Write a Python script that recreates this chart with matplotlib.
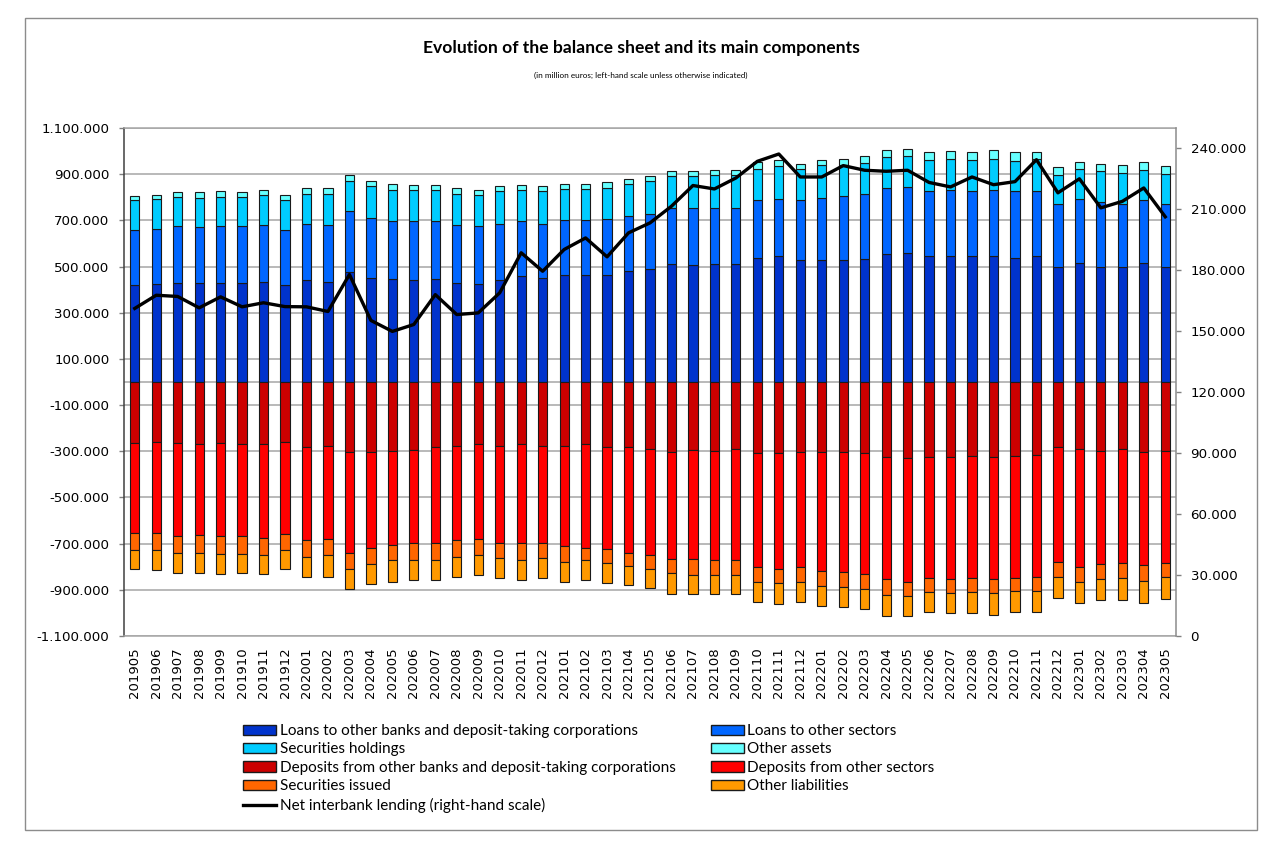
import matplotlib
matplotlib.use("Agg")
import matplotlib.pyplot as plt
import numpy as np
from matplotlib.ticker import FuncFormatter, FixedLocator
from matplotlib.patches import Rectangle, Patch
from matplotlib.lines import Line2D

# ---------------- data (million euros) ----------------
periods = ["201905", "201906", "201907", "201908", "201909", "201910", "201911", "201912",
           "202001", "202002", "202003", "202004", "202005", "202006", "202007", "202008",
           "202009", "202010", "202011", "202012", "202101", "202102", "202103", "202104",
           "202105", "202106", "202107", "202108", "202109", "202110", "202111", "202112",
           "202201", "202202", "202203", "202204", "202205", "202206", "202207", "202208",
           "202209", "202210", "202211", "202212", "202301", "202302", "202303", "202304",
           "202305"]

loans_banks = [420000, 425000, 430000, 430000, 430000, 430000, 435000, 420000, 441000, 435000,
               478000, 451000, 445000, 441000, 445000, 430000, 425000, 441000, 457000, 451000,
               463000, 463000, 463000, 480000, 489000, 512000, 506000, 512000, 512000, 539000,
               545000, 527000, 527000, 527000, 533000, 555000, 560000, 545000, 545000, 545000,
               545000, 539000, 545000, 496000, 517000, 500000, 500000, 517000, 500000]
loans_other = [238000, 239000, 244000, 240000, 244000, 244000, 245000, 238000, 244000, 245000,
               262000, 260000, 252000, 256000, 252000, 250000, 249000, 244000, 240000, 234000,
               238000, 238000, 244000, 237000, 239000, 242000, 248000, 242000, 242000, 248000,
               248000, 260000, 272000, 278000, 283000, 283000, 283000, 281000, 287000, 281000,
               287000, 287000, 281000, 277000, 276000, 279000, 273000, 270000, 273000]
securities_hold = [129000, 129000, 129000, 129000, 129000, 129000, 129000, 129000, 131000, 136000,
                   129000, 137000, 135000, 135000, 135000, 136000, 136000, 141000, 135000, 143000,
                   135000, 135000, 135000, 142000, 141000, 137000, 137000, 144000, 144000, 135000,
                   141000, 135000, 141000, 135000, 134000, 135000, 135000, 135000, 135000, 135000,
                   135000, 129000, 141000, 125000, 129000, 133000, 132000, 131000, 128000]
other_assets = [18000, 17000, 19000, 23000, 23000, 19000, 23000, 23000, 22000, 22000,
                29000, 21000, 27000, 21000, 21000, 22000, 22000, 22000, 21000, 20000,
                22000, 22000, 22000, 20000, 22000, 21000, 21000, 20000, 20000, 30000,
                28000, 23000, 21000, 27000, 28000, 31000, 33000, 33000, 34000, 35000,
                39000, 41000, 29000, 33000, 31000, 33000, 36000, 35000, 36000]

deposits_banks = [265000, 260000, 265000, 270000, 265000, 270000, 270000, 260000, 282000, 276000,
                  304000, 304000, 298000, 294000, 282000, 276000, 270000, 276000, 270000, 276000,
                  276000, 270000, 282000, 282000, 288000, 304000, 294000, 298000, 288000, 309000,
                  309000, 304000, 304000, 304000, 309000, 325000, 331000, 325000, 325000, 319000,
                  325000, 319000, 315000, 282000, 292000, 298000, 292000, 304000, 298000]
deposits_other = [388000, 393000, 403000, 392000, 403000, 398000, 405000, 398000, 403000, 403000,
                  436000, 414000, 408000, 405000, 417000, 409000, 409000, 420000, 429000, 423000,
                  436000, 448000, 443000, 458000, 463000, 464000, 474000, 475000, 485000, 492000,
                  503000, 497000, 513000, 518000, 523000, 530000, 534000, 524000, 530000, 530000,
                  530000, 530000, 528000, 496000, 508000, 490000, 491000, 490000, 485000]
securities_issued = [76000, 76000, 72000, 78000, 76000, 76000, 76000, 71000, 72000, 72000,
                     72000, 72000, 67000, 74000, 74000, 72000, 72000, 65000, 74000, 64000,
                     66000, 55000, 59000, 56000, 61000, 61000, 67000, 62000, 62000, 65000,
                     60000, 65000, 66000, 66000, 66000, 66000, 62000, 60000, 60000, 60000,
                     60000, 55000, 61000, 65000, 65000, 67000, 66000, 66000, 60000]
other_liabilities = [81000, 87000, 86000, 86000, 88000, 82000, 81000, 81000, 86000, 92000,
                     86000, 86000, 92000, 86000, 86000, 86000, 86000, 86000, 86000, 84000,
                     87000, 86000, 86000, 85000, 82000, 90000, 84000, 84000, 84000, 85000,
                     91000, 85000, 85000, 86000, 86000, 92000, 86000, 87000, 86000, 92000,
                     92000, 92000, 92000, 92000, 92000, 90000, 96000, 97000, 98000]

net_interbank = [161200, 167700, 167100, 161500, 166900, 162000, 164000, 162100, 162000, 159700,
                 177900, 155300, 149900, 153300, 168000, 158200, 159000, 168900, 188600, 179500,
                 190200, 195900, 186600, 198400, 203300, 211500, 221700, 220000, 225400, 233600,
                 237200, 225900, 225900, 231500, 229200, 228700, 229200, 223200, 221000, 225900,
                 222100, 223600, 234400, 218100, 225000, 210700, 213900, 220500, 206300]

asset_labels = ["Loans to other banks and deposit-taking corporations", "Loans to other sectors",
                "Securities holdings", "Other assets"]
liab_labels = ["Deposits from other banks and deposit-taking corporations",
               "Deposits from other sectors", "Securities issued", "Other liabilities"]
line_label = "Net interbank lending (right-hand scale)"

left_ticks = [-1100000, -900000, -700000, -500000, -300000, -100000,
              100000, 300000, 500000, 700000, 900000, 1100000]
right_ticks = [0, 30000, 60000, 90000, 120000, 150000, 180000, 210000, 240000]

title = "Evolution of the balance sheet and its main components"
subtitle = "(in million euros; left-hand scale unless otherwise indicated)"

# ---------------- styles ----------------
asset_colors = ["#0033CC", "#0066FF", "#00CCFF", "#66FFFF"]
liab_colors = ["#CC0000", "#FF0000", "#FF6600", "#FF9900"]
edge = "#1a1a1a"
grid_col = "#A6A6A6"

W, H = 1271, 842
fig = plt.figure(figsize=(W / 100, H / 100), dpi=100)
fig.patch.set_facecolor("white")

# outer chart border
fig.patches.append(Rectangle((25 / W, 1 - 830 / H), (1257 - 25) / W, (830 - 18) / H,
                             transform=fig.transFigure, fill=False,
                             edgecolor="#8C8C8C", linewidth=1.0))

L, R, T, B = 124, 1176, 128, 636
ax = fig.add_axes([L / W, 1 - B / H, (R - L) / W, (B - T) / H])
ax2 = ax.twinx()

n = len(periods)
pos = np.arange(n)
bw = 0.43

bottom = np.zeros(n)
for vals, col in zip([loans_banks, loans_other, securities_hold, other_assets], asset_colors):
    v = np.array(vals, dtype=float)
    ax.bar(pos, v, bw, bottom=bottom, color=col, edgecolor=edge, linewidth=0.8, zorder=2)
    bottom = bottom + v

bottom = np.zeros(n)
for vals, col in zip([deposits_banks, deposits_other, securities_issued, other_liabilities], liab_colors):
    v = -np.array(vals, dtype=float)
    ax.bar(pos, v, bw, bottom=bottom, color=col, edgecolor=edge, linewidth=0.8, zorder=2)
    bottom = bottom + v

ax.set_xlim(-0.5, n - 0.5)
ax.set_ylim(-1100000, 1100000)
ax.yaxis.set_major_locator(FixedLocator(left_ticks))
fmt = FuncFormatter(lambda v, p: f"{int(round(v)):,}".replace(",", "."))
ax.yaxis.set_major_formatter(fmt)
ax.set_axisbelow(True)
ax.grid(axis="y", color=grid_col, linewidth=1.1, zorder=0)
ax.axhline(0, color=grid_col, linewidth=1.1, zorder=1)

ax.set_xticks(pos)
ax.set_xticklabels(periods, rotation=90, fontsize=9.5, family="DejaVu Sans")
ax.tick_params(axis="x", length=0, pad=8)
ax.tick_params(axis="y", direction="out", length=3.5, width=1, color="#808080",
               labelsize=9.6, pad=7)

for s in ["top", "bottom"]:
    ax.spines[s].set_color(grid_col)
    ax.spines[s].set_linewidth(1.1)
ax.spines["left"].set_color("#404040")
ax.spines["left"].set_linewidth(1.1)
ax.spines["right"].set_visible(False)

ax2.plot(pos, net_interbank, color="black", linewidth=2.4, solid_joinstyle="round", zorder=5)
ax2.set_ylim(0, 250000)
ax2.yaxis.set_major_locator(FixedLocator(right_ticks))
ax2.yaxis.set_major_formatter(fmt)
ax2.tick_params(axis="y", direction="out", length=3.5, width=1, color="#808080",
                labelsize=9.6, pad=7)
for s in ["top", "bottom", "left"]:
    ax2.spines[s].set_visible(False)
ax2.spines["right"].set_color("#8C8C8C")
ax2.spines["right"].set_linewidth(1.1)

# titles
fig.text(641 / W, 1 - 48 / H, title, ha="center", va="center",
         fontsize=12.6, fontweight="bold", family="Lato")
fig.text(641 / W, 1 - 75 / H, subtitle, ha="center", va="center",
         fontsize=5.9, family="Lato")

# legend (column-wise order)
handles = [
    Patch(facecolor=asset_colors[0], edgecolor=edge, label=asset_labels[0]),
    Patch(facecolor=asset_colors[2], edgecolor=edge, label=asset_labels[2]),
    Patch(facecolor=liab_colors[0], edgecolor=edge, label=liab_labels[0]),
    Patch(facecolor=liab_colors[2], edgecolor=edge, label=liab_labels[2]),
    Line2D([0], [0], color="black", linewidth=2.4, label=line_label),
    Patch(facecolor=asset_colors[1], edgecolor=edge, label=asset_labels[1]),
    Patch(facecolor=asset_colors[3], edgecolor=edge, label=asset_labels[3]),
    Patch(facecolor=liab_colors[1], edgecolor=edge, label=liab_labels[1]),
    Patch(facecolor=liab_colors[3], edgecolor=edge, label=liab_labels[3]),
]
fig.legend(handles=handles, ncol=2, loc="upper left",
           bbox_to_anchor=(243 / W, 1 - 724 / H), frameon=False,
           prop={"family": "Lato", "size": 11},
           handlelength=2.15, handleheight=0.65, handletextpad=0.25,
           labelspacing=0.29, columnspacing=2.3, borderpad=0, borderaxespad=0)

fig.savefig("out.png", dpi=100, facecolor="white")
